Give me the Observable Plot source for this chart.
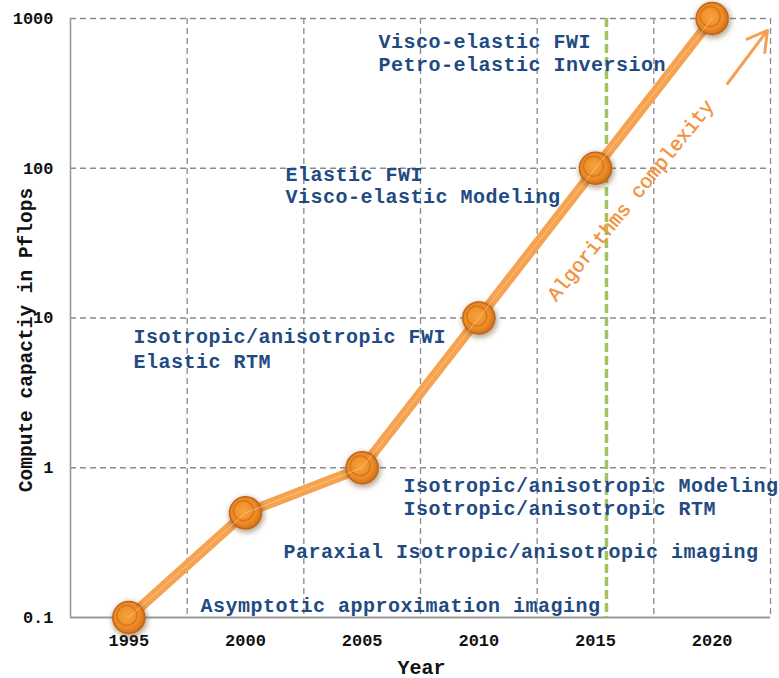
<!DOCTYPE html>
<html><head><meta charset="utf-8">
<script src="https://cdn.jsdelivr.net/npm/d3@7"></script>
<script src="https://cdn.jsdelivr.net/npm/@observablehq/plot@0.6"></script>
<style>body{margin:0;background:#fff}</style>
</head><body><div id="chart"></div>
<script>
const years = [1995, 2000, 2005, 2010, 2015, 2020];
const pflops = [0.1, 0.5, 1, 10, 100, 1000];
const yTicks = [0.1, 1, 10, 100, 1000];
const yTickLabels = ["0.1", "1", "10", "100", "1000"];
const gridYears = [1997.5, 2002.5, 2007.5, 2012.5, 2017.5, 2022.5];
const gridValues = [1, 10, 100, 1000];
const annotationTexts = [
  "Visco-elastic FWI", "Petro-elastic Inversion",
  "Elastic FWI", "Visco-elastic Modeling",
  "Isotropic/anisotropic FWI", "Elastic RTM",
  "Isotropic/anisotropic Modeling", "Isotropic/anisotropic RTM",
  "Paraxial Isotropic/anisotropic imaging",
  "Asymptotic approximation imaging"
];
const annotationYears = [2005.7, 2005.7, 2001.71, 2001.71, 1995.2, 1995.2, 2006.77, 2006.77, 2001.63, 1998.07];
const annotationValues = [640, 443, 82.8, 58.2, 6.76, 4.67, 0.684, 0.487, 0.248, 0.108];
const milestoneYear = 2015.47;
const trendLabel = "Algorithms complexity";
const trendLabelYear = 2016.5;
const trendLabelValue = 61;
const arrowFrom = {year: 2020.66, value: 368};
const arrowTo = {year: 2022.37, value: 832};

const pts = years.map((y, i) => ({year: y, value: pflops[i]}));
const ann = annotationTexts.map((t, i) => ({text: t, year: annotationYears[i], value: annotationValues[i]}));
const tickMap = new Map(yTicks.map((v, i) => [v, yTickLabels[i]]));
const FONT = "'Liberation Mono', 'Courier New', monospace";
const NAVY = "#1f4b82";

const chart = Plot.plot({
  width: 779, height: 678,
  marginLeft: 70, marginRight: 9, marginTop: 18, marginBottom: 61,
  style: {fontFamily: FONT, background: "#fff"},
  x: {domain: [1992.5, 2022.5]},
  y: {type: "log", domain: [0.1, 1000]},
  marks: [
    Plot.ruleX(gridYears, {stroke: "#8a8a8a", strokeWidth: 1.3, strokeDasharray: "6,4"}),
    Plot.ruleY(gridValues, {stroke: "#8a8a8a", strokeWidth: 1.3, strokeDasharray: "6,4"}),
    Plot.ruleX([1992.5], {stroke: "#9a9a9a", strokeWidth: 1.6}),
    Plot.ruleY([0.1], {stroke: "#9a9a9a", strokeWidth: 2.2}),
    Plot.axisY(yTicks, {tickSize: 0, tickPadding: 17, tickFormat: d => tickMap.get(d), fontSize: 17, fontWeight: "bold", fill: "#111", label: null}),
    Plot.axisX(years, {tickSize: 0, tickPadding: 16, tickFormat: d => String(d), fontSize: 17, fontWeight: "bold", fill: "#111", label: null}),
    Plot.text(["Year"], {frameAnchor: "bottom", textAnchor: "middle", dy: 50, dx: 1, fontSize: 20, fontWeight: "bold", fill: "#111", lineAnchor: "middle"}),
    Plot.text(["Compute capactiy in Pflops"], {frameAnchor: "left", textAnchor: "middle", dx: -45, dy: 22, rotate: -90, fontSize: 19.5, fontWeight: "bold", fill: "#111", lineAnchor: "middle"}),
    Plot.ruleX([milestoneYear], {stroke: "#a3c45c", strokeWidth: 3.5, strokeDasharray: "9,4"}),
    Plot.text(ann, {x: "year", y: "value", text: "text", textAnchor: "start", lineAnchor: "bottom", fontSize: 20, fontWeight: "bold", fill: NAVY}),
    Plot.text([trendLabel], {x: () => trendLabelYear, y: () => trendLabelValue, rotate: -51, fontSize: 20, fill: "#f0913c", stroke: "#f0913c", strokeWidth: 0.4, lineAnchor: "middle"}),
    Plot.arrow([arrowFrom], {x1: "year", y1: "value", x2: () => arrowTo.year, y2: () => arrowTo.value, stroke: "#f5a055", strokeWidth: 3, headLength: 14, bend: 0}),
    Plot.line(pts, {x: "year", y: "value", stroke: "#f7a24e", strokeWidth: 10, strokeLinejoin: "round", strokeLinecap: "round"}),
    Plot.dot(pts, {x: "year", y: "value", r: 18, fill: "#6b4a20", fillOpacity: 0.45, dx: 1, dy: 2}),
    Plot.dot(pts, {x: "year", y: "value", r: 16, fill: "url(#orb)", stroke: "#c0651a", strokeWidth: 1.5}),
    Plot.dot(pts, {x: "year", y: "value", r: 10, fill: "none", stroke: "#c96c1c", strokeWidth: 1.5, strokeOpacity: 0.7, dx: -2, dy: -2}),
    Plot.line(pts, {x: "year", y: "value", stroke: "#fff", strokeWidth: 0.8, strokeOpacity: 0.45})
  ]
});

const svg = d3.select(chart);
const defs = svg.insert("defs", ":first-child");
const grad = defs.append("radialGradient").attr("id", "orb").attr("cx", "45%").attr("cy", "45%").attr("r", "60%");
grad.append("stop").attr("offset", "0%").attr("stop-color", "#f7a23c");
grad.append("stop").attr("offset", "65%").attr("stop-color", "#ee8a24");
grad.append("stop").attr("offset", "100%").attr("stop-color", "#c86a18");
const filt = defs.append("filter").attr("id", "blur").attr("x", "-50%").attr("y", "-50%").attr("width", "200%").attr("height", "200%");
filt.append("feGaussianBlur").attr("stdDeviation", 2.5);
const dotGroups = svg.selectAll('g[aria-label="dot"]').nodes();
if (dotGroups.length) d3.select(dotGroups[0]).attr("filter", "url(#blur)");
svg.selectAll(`g[fill="${NAVY}"]`).attr("letter-spacing", "0.5px");
document.getElementById("chart").appendChild(chart);
</script>
</body></html>
